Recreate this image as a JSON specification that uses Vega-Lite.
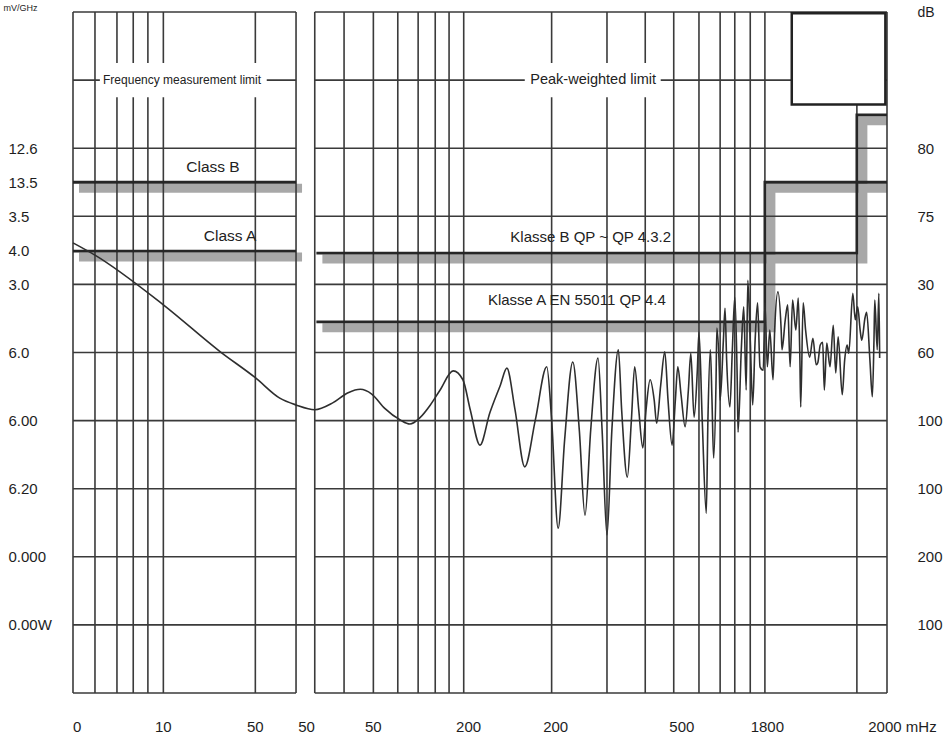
{
  "$schema": "https://vega.github.io/schema/vega-lite/v6.json",
  "width": 814,
  "height": 681,
  "autosize": "none",
  "padding": {"left": 73, "top": 12, "right": 58, "bottom": 45},
  "background": "white",
  "config": {
    "view": {"stroke": null},
    "font": "Liberation Sans",
    "axis": {"grid": false, "domain": false, "ticks": false}
  },
  "datasets": {
    "vgrid": [
      {"pos": 0}, {"pos": 2.7}, {"pos": 5.4}, {"pos": 7.4}, {"pos": 9.2}, {"pos": 11.1}, {"pos": 22.4}, {"pos": 27.4},
      {"pos": 29.7}, {"pos": 33.3}, {"pos": 36.9}, {"pos": 39.9}, {"pos": 42.4}, {"pos": 44.5}, {"pos": 46.2}, {"pos": 48.0},
      {"pos": 58.8}, {"pos": 65.6}, {"pos": 70.3}, {"pos": 73.8}, {"pos": 76.9}, {"pos": 79.5}, {"pos": 81.3}, {"pos": 83.2},
      {"pos": 85.0}, {"pos": 96.3}, {"pos": 100}
    ],
    "hgrid": [
      {"v": 0, "x0": 0, "x1": 27.4}, {"v": 0, "x0": 29.7, "x1": 100},
      {"v": 10, "x0": 0, "x1": 100},
      {"v": 20, "x0": 0, "x1": 27.4}, {"v": 20, "x0": 29.7, "x1": 100},
      {"v": 30, "x0": 0, "x1": 27.4}, {"v": 30, "x0": 29.7, "x1": 100},
      {"v": 40, "x0": 0, "x1": 27.4}, {"v": 40, "x0": 29.7, "x1": 100},
      {"v": 50, "x0": 0, "x1": 27.4}, {"v": 50, "x0": 29.7, "x1": 100},
      {"v": 60, "x0": 0, "x1": 27.4}, {"v": 60, "x0": 29.7, "x1": 100},
      {"v": 70, "x0": 0, "x1": 27.4}, {"v": 70, "x0": 29.7, "x1": 100},
      {"v": 80, "x0": 0, "x1": 27.4}, {"v": 80, "x0": 29.7, "x1": 100},
      {"v": 90, "x0": 0, "x1": 27.4}, {"v": 90, "x0": 29.7, "x1": 100},
      {"v": 100, "x0": 0, "x1": 27.4}, {"v": 100, "x0": 29.7, "x1": 100}
    ],
    "limits": [
      {"limit": "Class B", "i": 0, "pos": 0, "v": 75.0}, {"limit": "Class B", "i": 1, "pos": 27.4, "v": 75.0},
      {"limit": "Class A", "i": 0, "pos": 0, "v": 64.9}, {"limit": "Class A", "i": 1, "pos": 27.4, "v": 64.9},
      {"limit": "Klasse B", "i": 0, "pos": 29.9, "v": 64.6}, {"limit": "Klasse B", "i": 1, "pos": 96.3, "v": 64.6},
      {"limit": "Klasse B", "i": 2, "pos": 96.3, "v": 84.9}, {"limit": "Klasse B", "i": 3, "pos": 100, "v": 84.9},
      {"limit": "Klasse A", "i": 0, "pos": 29.9, "v": 54.5}, {"limit": "Klasse A", "i": 1, "pos": 85.0, "v": 54.5},
      {"limit": "Klasse A", "i": 2, "pos": 85.0, "v": 75.0}, {"limit": "Klasse A", "i": 3, "pos": 100, "v": 75.0}
    ],
    "boxes": [
      {"x0": 3.3, "x1": 23.8, "v0": 87.5, "v1": 92.5},
      {"x0": 55.5, "x1": 72.2, "v0": 87.5, "v1": 92.5}
    ],
    "inset": [{"x0": 88.3, "x1": 99.8, "v0": 86.4, "v1": 99.8}],
    "curve": [
      {"pos": 0, "v": 66.1}, {"pos": 2.7, "v": 64.3}, {"pos": 11.1, "v": 57.0},
      {"pos": 18.1, "v": 50.1}, {"pos": 22.4, "v": 46.3}, {"pos": 25.4, "v": 43.3}, {"pos": 27.4, "v": 42.3},
      {"pos": 29.7, "v": 41.6}, {"pos": 31.9, "v": 42.6}, {"pos": 33.8, "v": 44.1}, {"pos": 35.3, "v": 44.6},
      {"pos": 36.7, "v": 43.9}, {"pos": 38.3, "v": 41.8}, {"pos": 40.2, "v": 40.1}, {"pos": 41.4, "v": 39.5},
      {"pos": 42.6, "v": 40.4}, {"pos": 43.9, "v": 42.3}, {"pos": 45.1, "v": 44.5}, {"pos": 46.7, "v": 47.3},
      {"pos": 47.9, "v": 46.0}, {"pos": 48.8, "v": 41.6}, {"pos": 50.0, "v": 36.4}, {"pos": 51.2, "v": 41.1},
      {"pos": 52.5, "v": 45.2}, {"pos": 53.3, "v": 47.7}, {"pos": 54.3, "v": 41.6}, {"pos": 55.5, "v": 33.2},
      {"pos": 56.8, "v": 40.1}, {"pos": 58.2, "v": 47.9}, {"pos": 58.8, "v": 40.1}, {"pos": 59.6, "v": 24.2},
      {"pos": 60.4, "v": 37.2}, {"pos": 61.4, "v": 48.6}, {"pos": 62.2, "v": 38.6}, {"pos": 62.9, "v": 26.1},
      {"pos": 63.6, "v": 38.6}, {"pos": 64.5, "v": 49.2}, {"pos": 65.0, "v": 38.6}, {"pos": 65.6, "v": 23.2},
      {"pos": 66.2, "v": 38.6}, {"pos": 67.0, "v": 50.4}, {"pos": 67.4, "v": 41.6}, {"pos": 68.1, "v": 31.7},
      {"pos": 68.6, "v": 40.1}, {"pos": 69.0, "v": 47.9}, {"pos": 69.5, "v": 41.6}, {"pos": 70.0, "v": 36.0},
      {"pos": 70.4, "v": 41.6}, {"pos": 70.9, "v": 46.0}, {"pos": 71.4, "v": 43.0}, {"pos": 71.7, "v": 39.6},
      {"pos": 72.2, "v": 45.2}, {"pos": 72.7, "v": 50.1}, {"pos": 73.1, "v": 43.0}, {"pos": 73.6, "v": 36.4},
      {"pos": 74.0, "v": 43.0}, {"pos": 74.3, "v": 47.9}, {"pos": 74.7, "v": 43.8}, {"pos": 75.2, "v": 39.1},
      {"pos": 75.6, "v": 44.5}, {"pos": 75.9, "v": 49.9}, {"pos": 76.3, "v": 40.5}, {"pos": 76.7, "v": 47.4},
      {"pos": 76.9, "v": 53.0}, {"pos": 77.3, "v": 40.1}, {"pos": 77.8, "v": 26.4}, {"pos": 78.0, "v": 40.1},
      {"pos": 78.3, "v": 50.4}, {"pos": 78.5, "v": 43.0}, {"pos": 78.7, "v": 34.5}, {"pos": 79.0, "v": 46.0},
      {"pos": 79.1, "v": 53.6}, {"pos": 79.4, "v": 47.4}, {"pos": 79.5, "v": 43.0}, {"pos": 79.9, "v": 51.8},
      {"pos": 80.1, "v": 56.5}, {"pos": 80.3, "v": 48.9}, {"pos": 80.7, "v": 42.0}, {"pos": 81.0, "v": 50.4},
      {"pos": 81.3, "v": 58.1}, {"pos": 81.6, "v": 46.0}, {"pos": 81.7, "v": 38.3}, {"pos": 82.1, "v": 50.4},
      {"pos": 82.4, "v": 56.7}, {"pos": 82.7, "v": 44.5}, {"pos": 82.9, "v": 60.6}, {"pos": 83.2, "v": 51.8},
      {"pos": 83.5, "v": 42.3}, {"pos": 83.8, "v": 51.8}, {"pos": 84.1, "v": 57.3}, {"pos": 84.4, "v": 47.9},
      {"pos": 84.8, "v": 47.4}, {"pos": 85.0, "v": 57.3}, {"pos": 85.3, "v": 47.9}, {"pos": 85.6, "v": 53.3},
      {"pos": 86.0, "v": 46.0}, {"pos": 86.2, "v": 53.3}, {"pos": 86.6, "v": 58.9}, {"pos": 87.0, "v": 53.3},
      {"pos": 87.1, "v": 50.4}, {"pos": 87.5, "v": 54.8}, {"pos": 87.8, "v": 57.0}, {"pos": 88.1, "v": 47.9},
      {"pos": 88.4, "v": 57.7}, {"pos": 88.8, "v": 53.3}, {"pos": 89.1, "v": 58.0}, {"pos": 89.3, "v": 48.9},
      {"pos": 89.4, "v": 42.0}, {"pos": 89.7, "v": 57.3}, {"pos": 90.0, "v": 53.3}, {"pos": 90.5, "v": 49.3},
      {"pos": 90.9, "v": 52.1}, {"pos": 91.3, "v": 48.2}, {"pos": 91.5, "v": 48.5}, {"pos": 91.8, "v": 51.1},
      {"pos": 92.1, "v": 51.5}, {"pos": 92.3, "v": 44.5}, {"pos": 92.6, "v": 51.4}, {"pos": 93.0, "v": 47.9},
      {"pos": 93.4, "v": 54.0}, {"pos": 93.7, "v": 47.0}, {"pos": 94.0, "v": 52.3}, {"pos": 94.5, "v": 43.8},
      {"pos": 94.8, "v": 48.9}, {"pos": 95.1, "v": 51.1}, {"pos": 95.3, "v": 49.9}, {"pos": 95.8, "v": 58.7},
      {"pos": 96.1, "v": 54.8}, {"pos": 96.4, "v": 56.7}, {"pos": 96.7, "v": 53.3}, {"pos": 96.9, "v": 51.8},
      {"pos": 97.3, "v": 55.1}, {"pos": 97.5, "v": 55.9}, {"pos": 97.9, "v": 48.9}, {"pos": 98.2, "v": 43.5},
      {"pos": 98.4, "v": 51.8}, {"pos": 98.5, "v": 57.7}, {"pos": 98.8, "v": 50.4}, {"pos": 99.0, "v": 58.7},
      {"pos": 99.1, "v": 49.2}
    ],
    "xTicks": [
      {"pos": 0.5, "label": "0"},
      {"pos": 11.1, "label": "10"},
      {"pos": 22.4, "label": "50"},
      {"pos": 28.7, "label": "50"},
      {"pos": 36.9, "label": "50"},
      {"pos": 48.6, "label": "200"},
      {"pos": 59.3, "label": "200"},
      {"pos": 74.8, "label": "500"},
      {"pos": 85.3, "label": "1800"}
    ],
    "xUnitTick": [
      {"pos": 97.7, "label": "2000 mHz"}
    ],
    "classLabels": [
      {"pos": 17.2, "v": 77.2, "text": "Class  B"},
      {"pos": 19.3, "v": 67.1, "text": "Class A"}
    ],
    "limitLabels": [
      {"pos": 63.6, "v": 67.0, "text": "Klasse B QP ~ QP 4.3.2"},
      {"pos": 61.9, "v": 57.7, "text": "Klasse A  EN 55011 QP 4.4"}
    ],
    "freqLabel": [
      {"pos": 13.4, "v": 90, "text": "Frequency measurement limit"}
    ],
    "peakLabel": [
      {"pos": 63.9, "v": 90, "text": "Peak-weighted limit"}
    ]
  },
  "layer": [
    {
      "data": {"name": "limits"},
      "mark": {"type": "line", "stroke": "#a8a8a8", "strokeWidth": 9, "xOffset": 6, "yOffset": 6, "strokeCap": "butt", "strokeJoin": "miter", "clip": true},
      "encoding": {
        "x": {"field": "pos", "type": "quantitative", "axis": null, "scale": {"domain": [0, 100], "nice": false}},
        "y": {"field": "v", "type": "quantitative", "axis": null, "scale": {"domain": [0, 100], "nice": false}},
        "detail": {"field": "limit"},
        "order": {"field": "i"}
      }
    },
    {
      "data": {"name": "vgrid"},
      "mark": {"type": "rule", "stroke": "#3a3a3a", "strokeWidth": 1.6},
      "encoding": {
        "x": {"field": "pos", "type": "quantitative", "axis": null}
      }
    },
    {
      "data": {"name": "hgrid"},
      "mark": {"type": "rule", "stroke": "#3a3a3a", "strokeWidth": 1.6},
      "encoding": {
        "x": {"field": "x0", "type": "quantitative", "axis": null},
        "x2": {"field": "x1"},
        "y": {
          "field": "v", "type": "quantitative",
          "axis": {
            "orient": "right",
            "values": [80, 70, 60, 50, 40, 30, 20, 10],
            "labelExpr": "datum.value == 80 ? '80' : datum.value == 70 ? '75' : datum.value == 60 ? '30' : datum.value == 50 ? '60' : datum.value == 40 ? '100' : datum.value == 30 ? '100' : datum.value == 20 ? '200' : '100'",
            "labelAlign": "left",
            "labelPadding": 30,
            "labelFontSize": 15,
            "labelColor": "#1e1e1e",
            "labelFont": "Liberation Sans",
            "title": "dB",
            "titleAngle": 0,
            "titleAlign": "left",
            "titleBaseline": "middle",
            "titleX": 30,
            "titleY": 0,
            "titleFontSize": 14,
            "titleFontWeight": "normal",
            "titleColor": "#1e1e1e",
            "titleFont": "Liberation Sans"
          }
        }
      }
    },
    {
      "data": {"name": "boxes"},
      "mark": {"type": "rect", "fill": "white"},
      "encoding": {
        "x": {"field": "x0", "type": "quantitative", "axis": null},
        "x2": {"field": "x1"},
        "y": {"field": "v0", "type": "quantitative", "axis": null},
        "y2": {"field": "v1"}
      }
    },
    {
      "data": {"name": "limits"},
      "mark": {"type": "line", "stroke": "#262626", "strokeWidth": 2.8, "strokeCap": "butt", "strokeJoin": "miter"},
      "encoding": {
        "x": {"field": "pos", "type": "quantitative", "axis": null},
        "y": {"field": "v", "type": "quantitative", "axis": null},
        "detail": {"field": "limit"},
        "order": {"field": "i"}
      }
    },
    {
      "data": {"name": "curve"},
      "mark": {"type": "line", "stroke": "#2e2e2e", "strokeWidth": 1.6, "interpolate": "monotone"},
      "encoding": {
        "x": {
          "field": "pos", "type": "quantitative",
          "scale": {"domain": [0, 100], "nice": false},
          "axis": null
        },
        "y": {
          "field": "v", "type": "quantitative",
          "scale": {"domain": [0, 100], "nice": false},
          "axis": {
            "orient": "left",
            "values": [80, 75, 70, 65, 60, 50, 40, 30, 20, 10],
            "labelExpr": "datum.value == 80 ? '12.6' : datum.value == 75 ? '13.5' : datum.value == 70 ? '3.5' : datum.value == 65 ? '4.0' : datum.value == 60 ? '3.0' : datum.value == 50 ? '6.0' : datum.value == 40 ? '6.00' : datum.value == 30 ? '6.20' : datum.value == 20 ? '0.000' : '0.00W'",
            "labelAlign": "left",
            "labelPadding": 65,
            "labelFontSize": 15,
            "labelColor": "#1e1e1e",
            "labelFont": "Liberation Sans",
            "title": "mV/GHz",
            "titleAngle": 0,
            "titleAlign": "left",
            "titleBaseline": "top",
            "titleX": -70,
            "titleY": -9,
            "titleFontSize": 9,
            "titleFontWeight": "normal",
            "titleColor": "#1e1e1e",
            "titleFont": "Liberation Sans"
          }
        }
      }
    },
    {
      "data": {"name": "inset"},
      "mark": {"type": "rect", "fill": "white", "stroke": "#222", "strokeWidth": 2.5},
      "encoding": {
        "x": {"field": "x0", "type": "quantitative", "axis": null},
        "x2": {"field": "x1"},
        "y": {"field": "v0", "type": "quantitative", "axis": null},
        "y2": {"field": "v1"}
      }
    },
    {
      "data": {"name": "xTicks"},
      "mark": {"type": "text", "fontSize": 15, "fill": "#1e1e1e", "font": "Liberation Sans", "align": "center", "baseline": "middle"},
      "encoding": {
        "x": {"field": "pos", "type": "quantitative", "axis": null},
        "y": {"datum": -5, "type": "quantitative", "axis": null},
        "text": {"field": "label"}
      }
    },
    {
      "data": {"name": "xUnitTick"},
      "mark": {"type": "text", "fontSize": 15, "fill": "#1e1e1e", "font": "Liberation Sans", "align": "left", "baseline": "middle"},
      "encoding": {
        "x": {"field": "pos", "type": "quantitative", "axis": null},
        "y": {"datum": -5, "type": "quantitative", "axis": null},
        "text": {"field": "label"}
      }
    },
    {
      "data": {"name": "classLabels"},
      "mark": {"type": "text", "fontSize": 15.5, "fill": "#222", "font": "Liberation Sans", "align": "center", "baseline": "middle"},
      "encoding": {
        "x": {"field": "pos", "type": "quantitative", "axis": null},
        "y": {"field": "v", "type": "quantitative", "axis": null},
        "text": {"field": "text"}
      }
    },
    {
      "data": {"name": "limitLabels"},
      "mark": {"type": "text", "fontSize": 15, "fill": "#222", "font": "Liberation Sans", "align": "center", "baseline": "middle"},
      "encoding": {
        "x": {"field": "pos", "type": "quantitative", "axis": null},
        "y": {"field": "v", "type": "quantitative", "axis": null},
        "text": {"field": "text"}
      }
    },
    {
      "data": {"name": "freqLabel"},
      "mark": {"type": "text", "fontSize": 12, "fill": "#222", "font": "Liberation Sans", "align": "center", "baseline": "middle"},
      "encoding": {
        "x": {"field": "pos", "type": "quantitative", "axis": null},
        "y": {"field": "v", "type": "quantitative", "axis": null},
        "text": {"field": "text"}
      }
    },
    {
      "data": {"name": "peakLabel"},
      "mark": {"type": "text", "fontSize": 14.5, "fill": "#222", "font": "Liberation Sans", "align": "center", "baseline": "middle"},
      "encoding": {
        "x": {"field": "pos", "type": "quantitative", "axis": null},
        "y": {"field": "v", "type": "quantitative", "axis": null},
        "text": {"field": "text"}
      }
    }
  ],
  "resolve": {"axis": {"y": "independent"}}
}
